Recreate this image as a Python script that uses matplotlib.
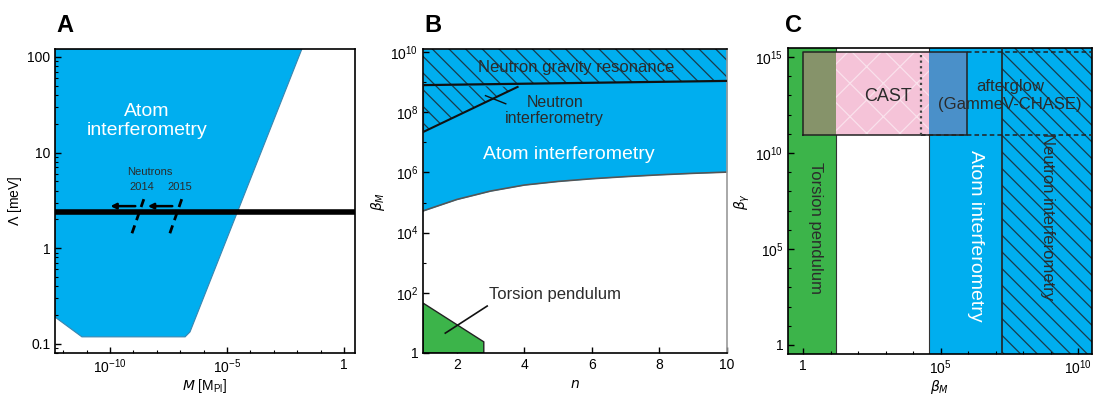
import matplotlib.pyplot as plt
import numpy as np
from matplotlib.ticker import FixedLocator, FixedFormatter, NullFormatter

plt.rcParams['font.family'] = ['Liberation Sans', 'DejaVu Sans']
plt.rcParams['mathtext.default'] = 'regular'
plt.rcParams['hatch.linewidth'] = 0.9

BLUE = '#00aeef'
GREEN = '#3cb44a'
PINK = '#f5c3d8'
OLIVE = '#86936a'
STEEL = '#4a90c9'
DARK = '#2b2b2b'

# ---- panel A: Lambda vs M ----
A_xlim = (10**-12.35, 10**0.47)
A_ylim = (0.08, 121)
atom_A_logM = [-12.35, -1.8, -6.58, -6.79, -11.2, -12.35]
atom_A_lam = [121, 121, 0.133, 0.118, 0.118, 0.19]
neutron_bound = 2.37
dash_lam = [1.43, 3.55]
dash_2014_logM = [-9.06, -8.5]
dash_2015_logM = [-7.44, -6.88]
arrow_lam = 2.75
arrow_2014_logM = (-8.8, -10.1)
arrow_2015_logM = (-7.22, -8.5)

# ---- panel B: beta_M vs n ----
B_ylim = (1, 10**10.1)
n_curve = [1, 2, 3, 4, 5, 6, 7, 8, 9, 10]
atom_B_logbeta = [4.72, 5.1, 5.38, 5.58, 5.7, 5.79, 5.86, 5.92, 5.97, 6.01]
ngr_n = [1, 10]
ngr_logbeta = [8.9, 9.04]
nint_n = [1, 3.8, 1]
nint_logbeta = [8.9, 8.84, 7.34]
torsion_B_n = [1, 2.8, 2.8, 1]
torsion_B_logbeta = [1.66, 0.37, 0, 0]

# ---- panel C: beta_gamma vs beta_M ----
C_xlim = (10**-0.55, 10**10.5)
C_ylim = (10**-0.47, 10**15.47)
torsion_C_max = 10**1.2
atom_C_min = 10**4.58
nint_C_min = 10**7.24
cast_x = (1, 10**5.96)
cast_y = (10**10.94, 10**15.26)
afterglow_xmin = 10**4.29

fig = plt.figure(figsize=(10.95, 3.94), dpi=100)
W, H = 1095, 394


def add_ax(x0, x1, y0, y1):
    return fig.add_axes((x0 / W, 1 - y1 / H, (x1 - x0) / W, (y1 - y0) / H))


def style(ax):
    ax.tick_params(which='both', direction='in', top=False, right=False, labelsize=10)
    ax.tick_params(which='major', length=4, width=1)
    ax.tick_params(which='minor', length=2.5, width=0.8)
    for sp in ax.spines.values():
        sp.set_linewidth(1.2)
    ax.xaxis.set_label_coords(0.5, -0.078)


# panel A
axA = add_ax(55, 355, 49, 353)
axA.set_xscale('log')
axA.set_yscale('log')
axA.fill(10.0**np.array(atom_A_logM), atom_A_lam, color=BLUE, ec='#3a86b0', lw=0.8, zorder=1)
axA.axhline(neutron_bound, color='black', lw=4, zorder=3)
for lm in (dash_2014_logM, dash_2015_logM):
    axA.plot(10.0**np.array(lm), dash_lam, color='black', lw=2, ls=(0, (3, 2)), zorder=4)
for tail, head in (arrow_2014_logM, arrow_2015_logM):
    axA.annotate('', xy=(10**head, arrow_lam), xytext=(10**tail, arrow_lam),
                 arrowprops=dict(arrowstyle='-|>', color='black', lw=1.8, mutation_scale=8),
                 zorder=4)
axA.text(10**-8.42, 10**1.33, 'Atom\ninterferometry', color='white', fontsize=14,
         ha='center', va='center', linespacing=1.1)
axA.text(10**-8.29, 10**0.80, 'Neutrons', color=DARK, fontsize=8, ha='center', va='center')
axA.text(10**-8.63, 10**0.635, '2014', color=DARK, fontsize=8, ha='center', va='center')
axA.text(10**-7.01, 10**0.635, '2015', color=DARK, fontsize=8, ha='center', va='center')
axA.set_xlim(A_xlim)
axA.set_ylim(A_ylim)
axA.xaxis.set_major_locator(FixedLocator([1e-10, 1e-5, 1]))
axA.xaxis.set_major_formatter(FixedFormatter(['$10^{-10}$', '$10^{-5}$', '1']))
axA.xaxis.set_minor_locator(FixedLocator([10.0**k for k in range(-12, 1)]))
axA.xaxis.set_minor_formatter(NullFormatter())
axA.yaxis.set_major_locator(FixedLocator([0.1, 1, 10, 100]))
axA.yaxis.set_major_formatter(FixedFormatter(['0.1', '1', '10', '100']))
axA.set_xlabel('$\\mathit{M}$ [M$_{Pl}$]', fontsize=10)
axA.set_ylabel('$\\mathit{\\Lambda}$ [meV]', fontsize=10, labelpad=2)
style(axA)

# panel B
axB = add_ax(423, 727, 49, 353)
axB.set_yscale('log')
top_B = np.full(len(n_curve), B_ylim[1])
axB.fill_between(n_curve, 10.0**np.array(atom_B_logbeta), top_B, color=BLUE, lw=0, zorder=1)
axB.plot(n_curve, 10.0**np.array(atom_B_logbeta), color='#555555', lw=1.2, zorder=2)
ngr_lo = 10.0**np.array(ngr_logbeta)
axB.fill_between(ngr_n, ngr_lo, [B_ylim[1]] * 2, facecolor='none', edgecolor='#1a3a4a',
                 hatch='\\\\', lw=0, zorder=2)
axB.plot(ngr_n, ngr_lo, color='#111111', lw=1.6, zorder=3)
axB.fill(nint_n, 10.0**np.array(nint_logbeta), facecolor='none', edgecolor='#1a3a4a',
         hatch='\\\\', lw=0, zorder=2)
axB.plot(nint_n[1:] + [nint_n[0]], 10.0**np.array(nint_logbeta[1:] + [nint_logbeta[0]]),
         color='#111111', lw=1.5, zorder=3)
axB.fill(torsion_B_n, 10.0**np.array(torsion_B_logbeta), color=GREEN, ec='#222222', lw=1, zorder=2)
axB.text(5.54, 10**9.5, 'Neutron gravity resonance', color=DARK, fontsize=12,
         ha='center', va='center', zorder=4)
axB.text(4.9, 10**8.05, 'Neutron\ninterferometry', color=DARK, fontsize=11.5,
         ha='center', va='center', linespacing=1.05, zorder=4)
axB.plot([3.45, 2.85], [10**8.28, 10**8.55], color='#111111', lw=1, zorder=4)
axB.text(5.33, 10**6.58, 'Atom interferometry', color='white', fontsize=14,
         ha='center', va='center', zorder=4)
axB.text(2.94, 10**1.93, 'Torsion pendulum', color=DARK, fontsize=12,
         ha='left', va='center', zorder=4)
axB.plot([1.66, 2.9], [10**0.66, 10**1.56], color='#111111', lw=1.2, zorder=4)
axB.set_xlim(1, 10)
axB.set_ylim(B_ylim)
axB.xaxis.set_major_locator(FixedLocator([2, 4, 6, 8, 10]))
axB.yaxis.set_major_locator(FixedLocator([10.0**k for k in range(0, 11, 2)]))
axB.yaxis.set_major_formatter(FixedFormatter(['1'] + ['$10^{%d}$' % k for k in range(2, 11, 2)]))
axB.yaxis.set_minor_locator(FixedLocator([10.0**k for k in range(1, 11, 2)]))
axB.yaxis.set_minor_formatter(NullFormatter())
axB.set_xlabel('$\\mathit{n}$', fontsize=10)
axB.set_ylabel('$\\mathit{\\beta_M}$', fontsize=10, labelpad=2)
style(axB)
axB.spines['right'].set_color('#999999')

# panel C
axC = add_ax(788, 1092, 48, 354)
axC.set_xscale('log')
axC.set_yscale('log')
axC.axvspan(C_xlim[0], torsion_C_max, color=GREEN, lw=0, zorder=1)
axC.axvline(torsion_C_max, color='#333333', lw=0.8, zorder=2)
axC.axvspan(atom_C_min, C_xlim[1], color=BLUE, lw=0, zorder=1)
axC.axvline(atom_C_min, color='#333333', lw=0.8, zorder=2)
axC.axvspan(nint_C_min, C_xlim[1], facecolor='none', edgecolor='#1a3a4a', hatch='\\\\',
            lw=0, zorder=2)
axC.axvline(nint_C_min, color='#222222', lw=1.2, zorder=3)
# CAST box and its overlaps with the other regions
axC.fill_between([torsion_C_max, atom_C_min], cast_y[0], cast_y[1], facecolor=PINK,
                 lw=0, zorder=3)
axC.fill_between([torsion_C_max, atom_C_min], cast_y[0], cast_y[1], facecolor='none',
                 edgecolor='#ffffff', hatch='x', lw=0, alpha=0.5, zorder=3)
axC.fill_between([cast_x[0], torsion_C_max], cast_y[0], cast_y[1], facecolor=OLIVE,
                 lw=0, zorder=3)
axC.fill_between([atom_C_min, cast_x[1]], cast_y[0], cast_y[1], facecolor=STEEL,
                 lw=0, zorder=3)
axC.plot([cast_x[0], cast_x[1], cast_x[1], cast_x[0], cast_x[0]],
         [cast_y[0], cast_y[0], cast_y[1], cast_y[1], cast_y[0]],
         color='#222222', lw=1.1, zorder=4)
# afterglow box
axC.plot([afterglow_xmin, C_xlim[1]], [cast_y[0]] * 2, color='#222222', lw=1.1,
         ls=(0, (3, 2)), zorder=4)
axC.plot([cast_x[1], C_xlim[1]], [cast_y[1]] * 2, color='#222222', lw=1.1,
         ls=(0, (3, 2)), zorder=4)
axC.plot([afterglow_xmin] * 2, cast_y, color='#444444', lw=1.6, ls=(0, (1, 1.5)), zorder=4)
axC.text(10**3.09, 10**12.92, 'CAST', color=DARK, fontsize=13, ha='center', va='center', zorder=5)
axC.text(10**7.53, 10**13.0, 'afterglow\n(GammeV-CHASE)', color=DARK, fontsize=12,
         ha='center', va='center', linespacing=1.25, zorder=5)
axC.text(10**6.25, 10**5.68, 'Atom interferometry', color='white', fontsize=14,
         rotation=-90, ha='center', va='center', zorder=5)
axC.text(10**0.44, 10**6.1, 'Torsion pendulum', color=DARK, fontsize=12,
         rotation=-90, ha='center', va='center', zorder=5)
axC.text(10**8.87, 10**6.67, 'Neutron interferometry', color=DARK, fontsize=12,
         rotation=-90, ha='center', va='center', zorder=5)
axC.set_xlim(C_xlim)
axC.set_ylim(C_ylim)
axC.xaxis.set_major_locator(FixedLocator([1, 1e5, 1e10]))
axC.xaxis.set_major_formatter(FixedFormatter(['1', '$10^{5}$', '$10^{10}$']))
axC.xaxis.set_minor_locator(FixedLocator([10.0**k for k in range(0, 11)]))
axC.xaxis.set_minor_formatter(NullFormatter())
axC.yaxis.set_major_locator(FixedLocator([1, 1e5, 1e10, 1e15]))
axC.yaxis.set_major_formatter(FixedFormatter(['1', '$10^{5}$', '$10^{10}$', '$10^{15}$']))
axC.yaxis.set_minor_locator(FixedLocator([10.0**k for k in range(0, 16)]))
axC.yaxis.set_minor_formatter(NullFormatter())
axC.set_xlabel('$\\mathit{\\beta_M}$', fontsize=10)
axC.set_ylabel('$\\mathit{\\beta_\\gamma}$', fontsize=10, labelpad=2)
style(axC)

for letter, px in (('A', 65), ('B', 433), ('C', 793)):
    fig.text(px / W, 1 - 25 / H, letter, fontsize=17, fontweight='bold', ha='center', va='center')

fig.savefig('out.png', dpi=100)
